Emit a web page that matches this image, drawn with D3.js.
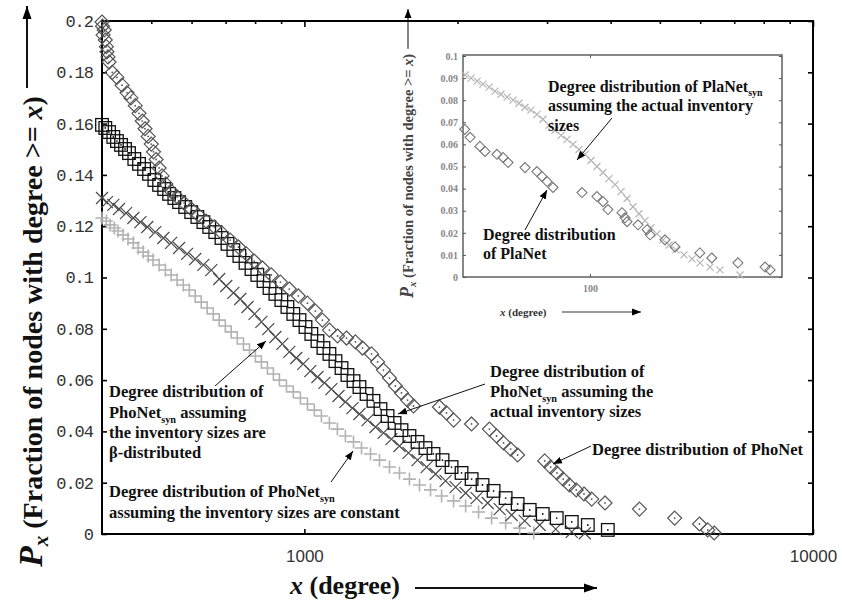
<!DOCTYPE html>
<html><head><meta charset="utf-8">
<script src="https://cdn.jsdelivr.net/npm/d3@7"></script>
<style>body{margin:0;background:#fff}</style>
</head><body>
<svg id="chart" width="842" height="600"></svg>
<script>
// ---- main plot: cumulative degree distributions on a log degree axis ----
const xTickValues = [1000, 10000];
const xMinorTicks = [500, 600, 700, 800, 900, 2000, 3000, 4000, 5000, 6000, 7000, 8000, 9000];
const yTickValues = [0, 0.02, 0.04, 0.06, 0.08, 0.1, 0.12, 0.14, 0.16, 0.18, 0.2];
const yTickLabels = ["0", "0.02", "0.04", "0.06", "0.08", "0.1", "0.12", "0.14", "0.16", "0.18", "0.2"];

// PhoNet (diamonds)
const phonetDegree = [400,401,404,402,406,408,409,411,413,419,428,438,448,456,465,473,480,486,493,500,505,511,518,525,534,547,562,580,599,618,641,665,689,715,742,769,797,827,861,897,934,973,1014,1051,1085,1120,1162,1210,1260,1301,1355,1393,1430,1470,1510,1552,1595,1639,1843,1903,1965,2131,2311,2387,2464,2544,2626,2968,3050,3137,3227,3319,3424,3546,3672,3900,4558,5346,5981,6209,6393];
const phonetFraction = [0.1996,0.198,0.1965,0.1945,0.1926,0.190,0.188,0.186,0.184,0.180,0.178,0.175,0.172,0.170,0.167,0.164,0.161,0.158,0.155,0.152,0.149,0.146,0.1427,0.1396,0.1365,0.1337,0.1314,0.129,0.1267,0.1244,0.122,0.1197,0.1173,0.1146,0.1119,0.1092,0.1064,0.1037,0.101,0.0982,0.0955,0.0928,0.090,0.0869,0.0834,0.0795,0.0772,0.0764,0.0749,0.0725,0.0702,0.0671,0.0639,0.0608,0.0577,0.055,0.0522,0.0499,0.0495,0.0472,0.0444,0.0429,0.0409,0.0382,0.0355,0.0331,0.0308,0.0285,0.0261,0.0238,0.0214,0.0191,0.0172,0.0156,0.0136,0.0121,0.0097,0.0062,0.0039,0.0016,0.0004];

// PhoNet_syn, actual inventory sizes (squares)
const synActualDegree = [400,406,413,421,428,436,444,452,463,473,484,495,507,518,530,542,555,567,583,599,616,633,650,668,687,706,725,745,766,787,808,831,854,877,901,926,951,978,1005,1032,1061,1090,1120,1151,1183,1215,1249,1283,1325,1367,1411,1457,1504,1552,1609,1669,1730,1794,1869,1947,2037,2132,2240,2355,2487,2626,2773,2942,3134,3355,3608,3950];
const synActualFraction = [0.1595,0.1583,0.1567,0.1548,0.1532,0.1517,0.1501,0.1485,0.1462,0.1443,0.1423,0.1404,0.138,0.1361,0.1345,0.1326,0.131,0.1294,0.1275,0.1255,0.1236,0.1216,0.1197,0.1177,0.1154,0.1131,0.1107,0.1084,0.1057,0.1033,0.101,0.0986,0.0959,0.0936,0.0912,0.0885,0.0858,0.0834,0.0807,0.078,0.0752,0.0725,0.0702,0.0674,0.0647,0.062,0.0596,0.0573,0.0546,0.0519,0.0487,0.046,0.0433,0.0405,0.0382,0.0359,0.0335,0.0312,0.0288,0.0261,0.0238,0.0214,0.0191,0.0168,0.014,0.0117,0.0094,0.0078,0.0062,0.0047,0.0035,0.0016];

// PhoNet_syn, beta-distributed inventory sizes (crosses)
const synBetaDegree = [400,409,421,432,446,461,476,491,509,528,547,567,588,610,633,656,680,702,725,748,773,798,823,849,877,905,934,964,995,1027,1061,1095,1130,1167,1204,1243,1283,1331,1380,1431,1483,1538,1602,1669,1739,1811,1895,1983,2075,2181,2293,2421,2556,2711,2902,3120,3355,3559];
const synBetaFraction = [0.131,0.1294,0.1283,0.1267,0.1251,0.1232,0.1216,0.1197,0.1177,0.1154,0.1135,0.1115,0.1092,0.1072,0.1049,0.1029,0.0994,0.0967,0.094,0.0916,0.0885,0.0858,0.0827,0.0799,0.0768,0.0741,0.071,0.0686,0.0663,0.0635,0.0612,0.0589,0.0565,0.0538,0.0515,0.0491,0.0468,0.0444,0.0417,0.0394,0.037,0.0343,0.0316,0.0288,0.0261,0.0234,0.0207,0.0183,0.016,0.014,0.0121,0.0097,0.0074,0.0051,0.0035,0.0019,0.0008,0.0003];

// PhoNet_syn, constant inventory sizes (plus signs)
const synConstDegree = [400,408,415,423,430,440,450,461,471,482,493,504,518,533,547,562,578,594,610,627,644,662,680,699,718,738,759,780,801,823,846,869,893,922,951,982,1014,1046,1080,1120,1161,1204,1249,1295,1349,1405,1470,1538,1609,1684,1770,1861,1965,2075,2200,2334,2487,2650,2824];
const synConstFraction = [0.1232,0.122,0.1205,0.1193,0.1181,0.1166,0.115,0.1135,0.1115,0.1099,0.1084,0.1068,0.1049,0.1029,0.101,0.099,0.0971,0.0951,0.0928,0.0904,0.0881,0.0858,0.0834,0.0811,0.0788,0.0764,0.0741,0.0717,0.0694,0.0671,0.0647,0.0624,0.06,0.0577,0.0554,0.053,0.0507,0.0483,0.046,0.0433,0.0409,0.0382,0.0359,0.0335,0.0312,0.0288,0.0261,0.0238,0.0214,0.0191,0.0172,0.0148,0.0129,0.0109,0.0086,0.0062,0.0043,0.0023,0.0004];

// ---- inset: PlaNet ----
const insetXTicks = [100];
const insetYTicks = [0, 0.01, 0.02, 0.03, 0.04, 0.05, 0.06, 0.07, 0.08, 0.09, 0.1];
const insetYLabels = ["0", "0.01", "0.02", "0.03", "0.04", "0.05", "0.06", "0.07", "0.08", "0.09", "0.1"];
const planetDegree = [40.5,42.1,45.2,46.9,51.1,53.4,55.4,62.6,68.2,70.7,73.4,76.6,94.4,105.2,109.9,113.9,126,128.8,130.7,141.5,151,154.3,171.9,184.8,221,241,291,354,367];
const planetFraction = [0.0668,0.0632,0.0591,0.0568,0.0555,0.0541,0.0518,0.0495,0.0477,0.0455,0.0432,0.0405,0.0382,0.0364,0.0341,0.0305,0.0291,0.0268,0.025,0.0236,0.0214,0.0191,0.0168,0.0136,0.0109,0.0086,0.0064,0.0045,0.0032];
const planetSynDegree = [40.6,42.4,44.3,46.2,48.3,50.4,52.6,55.0,57.4,59.9,62.6,65.3,68.2,71.2,74.4,77.7,81.2,84.7,88.5,92.4,96.5,100.8,105.2,109.9,114.8,119.9,125.2,130.7,136.5,142.5,148.8,155.4,162.3,169.5,177,186.1,197.1,208.9,221.4,237.9,255.7,295.4];
const planetSynFraction = [0.0914,0.09,0.0886,0.0873,0.0859,0.0841,0.0827,0.0814,0.08,0.0786,0.0768,0.0755,0.0736,0.0714,0.0686,0.0664,0.0641,0.0623,0.06,0.0577,0.0555,0.0527,0.05,0.0473,0.0445,0.0418,0.0386,0.0355,0.0318,0.0286,0.0255,0.0223,0.0195,0.0168,0.0145,0.0123,0.01,0.0082,0.0064,0.0045,0.0032,0.0009];

const svg = d3.select("#chart");
const SERIF = "'Liberation Serif','Times New Roman',serif";

const defs = svg.append("defs");
defs.append("marker").attr("id", "head").attr("markerUnits", "userSpaceOnUse")
  .attr("markerWidth", 10).attr("markerHeight", 8).attr("refX", 9).attr("refY", 4)
  .attr("orient", "auto")
  .append("path").attr("d", "M0,0.5L9,4L0,7.5Z").attr("fill", "#000");
defs.append("marker").attr("id", "headBig").attr("markerUnits", "userSpaceOnUse")
  .attr("markerWidth", 14).attr("markerHeight", 10).attr("refX", 13).attr("refY", 5)
  .attr("orient", "auto")
  .append("path").attr("d", "M0,0.5L13,5L0,9.5Z").attr("fill", "#000");

// scales
const x = d3.scaleLog().domain([400, 10000]).range([102, 813]);
const y = d3.scaleLinear().domain([0, 0.2]).range([534, 21]);

const zip = (a, b) => a.map((v, i) => [v, b[i]]);

// marker shapes
function drawDiamonds(g, data, sx, sy, r, color, sw, dot) {
  const s = g.selectAll(null).data(data).enter().append("g")
    .attr("transform", d => `translate(${sx(d[0])},${sy(d[1])})`);
  s.append("path").attr("d", `M0,${-r}L${r},0L0,${r}L${-r},0Z`)
    .attr("fill", "none").attr("stroke", color).attr("stroke-width", sw);
  if (dot) s.append("circle").attr("r", dot).attr("fill", color);
}
function drawSquares(g, data, sx, sy, h, color, sw, dot) {
  const s = g.selectAll(null).data(data).enter().append("g")
    .attr("transform", d => `translate(${sx(d[0])},${sy(d[1])})`);
  s.append("rect").attr("x", -h).attr("y", -h).attr("width", 2 * h).attr("height", 2 * h)
    .attr("fill", "none").attr("stroke", color).attr("stroke-width", sw);
  if (dot) s.append("circle").attr("r", dot).attr("fill", color);
}
function drawCrosses(g, data, sx, sy, h, color, sw) {
  g.selectAll(null).data(data).enter().append("path")
    .attr("transform", d => `translate(${sx(d[0])},${sy(d[1])})`)
    .attr("d", `M${-h},${-h}L${h},${h}M${-h},${h}L${h},${-h}`)
    .attr("stroke", color).attr("stroke-width", sw).attr("fill", "none");
}
function drawPlus(g, data, sx, sy, h, color, sw) {
  g.selectAll(null).data(data).enter().append("path")
    .attr("transform", d => `translate(${sx(d[0])},${sy(d[1])})`)
    .attr("d", `M${-h},0L${h},0M0,${-h}L0,${h}`)
    .attr("stroke", color).attr("stroke-width", sw).attr("fill", "none");
}

// ---- inset ----
const xi = d3.scaleLog().domain([40, 400]).range([463, 782]);
const yi = d3.scaleLinear().domain([0, 0.1]).range([277, 56]);
const inset = svg.append("g");
inset.append("rect").attr("x", 463).attr("y", 55).attr("width", 319).attr("height", 222)
  .attr("fill", "none").attr("stroke", "#555").attr("stroke-width", 1.4);
const insetTickStyle = s => { s.select(".domain").remove(); s.selectAll("line").attr("stroke", "#555"); };
inset.append("g").attr("transform", "translate(463,0)")
  .call(d3.axisLeft(yi).tickValues(insetYTicks).tickSize(-3).tickPadding(5)
    .tickFormat((d, i) => insetYLabels[i]))
  .call(insetTickStyle)
  .call(s => s.selectAll("text").attr("font-family", SERIF).attr("font-size", 10)
    .attr("font-weight", "bold").attr("fill", "#888"));
inset.append("g").attr("transform", "translate(782,0)")
  .call(d3.axisRight(yi).tickValues(insetYTicks).tickSize(-3).tickFormat(""))
  .call(insetTickStyle);
inset.append("g").attr("transform", "translate(0,277)")
  .call(d3.axisBottom(xi).tickValues(insetXTicks).tickSize(-3).tickPadding(8).tickFormat(d3.format("d")))
  .call(insetTickStyle)
  .call(s => s.selectAll("text").attr("font-family", SERIF).attr("font-size", 10)
    .attr("font-weight", "bold").attr("fill", "#888"));
inset.append("g").attr("transform", "translate(0,55)")
  .call(d3.axisTop(xi).tickValues(insetXTicks).tickSize(-3).tickFormat(""))
  .call(insetTickStyle);

drawCrosses(inset, zip(planetSynDegree, planetSynFraction), xi, yi, 3.5, "#b5b5b5", 1.2);
drawDiamonds(inset, zip(planetDegree, planetFraction), xi, yi, 5, "#777", 1.1, 0);

// inset axis titles
const iyt = inset.append("text").attr("transform", "translate(413,298) rotate(-90)")
  .attr("font-family", SERIF).attr("font-weight", "bold").attr("fill", "#444");
iyt.append("tspan").attr("font-size", 18).attr("font-style", "italic").text("P");
iyt.append("tspan").attr("font-size", 11).attr("font-style", "italic").attr("dy", 3).text("x");
iyt.append("tspan").attr("font-size", 14.5).attr("dy", -3).text(" (Fraction of nodes with degree >= ");
iyt.append("tspan").attr("font-size", 14.5).attr("font-style", "italic").text("x");
iyt.append("tspan").attr("font-size", 14.5).text(")");
const iytLen = iyt.node().getComputedTextLength();
inset.append("line").attr("x1", 408).attr("x2", 408)
  .attr("y1", 298 - iytLen - 5).attr("y2", 9)
  .attr("stroke", "#333").attr("stroke-width", 1.2).attr("marker-end", "url(#head)");
const ixt = inset.append("text").attr("x", 500).attr("y", 316)
  .attr("font-family", SERIF).attr("font-weight", "bold").attr("font-size", 11).attr("fill", "#333");
ixt.append("tspan").attr("font-style", "italic").text("x");
ixt.append("tspan").text(" (degree)");
inset.append("line").attr("x1", 562).attr("x2", 641).attr("y1", 312).attr("y2", 312)
  .attr("stroke", "#333").attr("stroke-width", 1).attr("marker-end", "url(#head)");

// ---- main frame & axes ----
const frame = svg.append("g");
frame.append("rect").attr("x", 102).attr("y", 21).attr("width", 711).attr("height", 513)
  .attr("fill", "none").attr("stroke", "#000").attr("stroke-width", 2);
const tickStyle = s => { s.select(".domain").remove(); s.selectAll("line").attr("stroke", "#000").attr("stroke-width", 1.6); };
frame.append("g").attr("transform", "translate(102,0)")
  .call(d3.axisLeft(y).tickValues(yTickValues).tickSize(-5).tickPadding(9)
    .tickFormat((d, i) => yTickLabels[i]))
  .call(tickStyle)
  .call(s => s.selectAll("text").attr("font-family", "'Liberation Mono',monospace")
    .attr("font-size", 17).attr("letter-spacing", -1).attr("fill", "#333"));
frame.append("g").attr("transform", "translate(813,0)")
  .call(d3.axisRight(y).tickValues(yTickValues).tickSize(-5).tickFormat(""))
  .call(tickStyle);
frame.append("g").attr("transform", "translate(0,534)")
  .call(d3.axisBottom(x).tickValues(xTickValues).tickSize(-5).tickPadding(16).tickFormat(d3.format("d")))
  .call(tickStyle)
  .call(s => s.selectAll("text").attr("font-family", "'Liberation Sans',sans-serif")
    .attr("font-size", 17).attr("fill", "#333"));
frame.append("g").attr("transform", "translate(0,21)")
  .call(d3.axisTop(x).tickValues(xTickValues).tickSize(-6).tickFormat(""))
  .call(tickStyle);
frame.append("g").attr("transform", "translate(0,21)")
  .call(d3.axisTop(x).tickValues(xMinorTicks).tickSize(-3).tickFormat(""))
  .call(tickStyle);

// ---- main series ----
const plot = svg.append("g");
drawPlus(plot, zip(synConstDegree, synConstFraction), x, y, 6.5, "#b3b3b3", 1.6);
drawCrosses(plot, zip(synBetaDegree, synBetaFraction), x, y, 6, "#4a4a4a", 1.2);
drawSquares(plot, zip(synActualDegree, synActualFraction), x, y, 6.3, "#111", 1.3, 0.9);
drawDiamonds(plot, zip(phonetDegree, phonetFraction), x, y, 7, "#555", 1.2, 0.9);

// ---- axis titles ----
const yt = svg.append("text").attr("transform", "translate(42,567) rotate(-90)")
  .attr("font-family", SERIF).attr("font-weight", "bold").attr("fill", "#111");
yt.append("tspan").attr("font-size", 34).attr("font-style", "italic").text("P");
yt.append("tspan").attr("font-size", 21).attr("font-style", "italic").attr("dy", 6).text("x");
yt.append("tspan").attr("font-size", 28).attr("dy", -6).text(" (Fraction of nodes with degree >= ");
yt.append("tspan").attr("font-size", 28).attr("font-style", "italic").text("x");
yt.append("tspan").attr("font-size", 28).text(")");
const ytLen = yt.node().getComputedTextLength();
svg.append("line").attr("x1", 27).attr("x2", 27).attr("y1", 567 - ytLen - 8).attr("y2", 6)
  .attr("stroke", "#111").attr("stroke-width", 2).attr("marker-end", "url(#headBig)");

const xt = svg.append("text").attr("x", 290).attr("y", 594)
  .attr("font-family", SERIF).attr("font-weight", "bold").attr("font-size", 26).attr("fill", "#111");
xt.append("tspan").attr("font-style", "italic").text("x");
xt.append("tspan").text(" (degree)");
svg.append("line").attr("x1", 415).attr("x2", 597).attr("y1", 588).attr("y2", 588)
  .attr("stroke", "#111").attr("stroke-width", 2).attr("marker-end", "url(#headBig)");

// ---- annotations ----
// each line is a list of plain strings and {sub: "..."} subscripts
function note(px, baselines, lines, size) {
  const t = svg.append("text").attr("font-family", SERIF).attr("font-weight", "bold")
    .attr("font-size", size).attr("fill", "#111");
  const shift = size * 0.28;
  lines.forEach((segs, i) => {
    const line = t.append("tspan").attr("x", px).attr("y", baselines[i]);
    let lowered = false;
    segs.forEach(s => {
      if (typeof s === "string") {
        const sp = line.append("tspan").text(s);
        if (lowered) { sp.attr("dy", -shift); lowered = false; }
      } else {
        line.append("tspan").attr("font-size", size * 0.62).attr("dy", shift).text(s.sub);
        lowered = true;
      }
    });
  });
}
function arrow(x1, y1, x2, y2) {
  svg.append("line").attr("x1", x1).attr("y1", y1).attr("x2", x2).attr("y2", y2)
    .attr("stroke", "#111").attr("stroke-width", 1).attr("marker-end", "url(#head)");
}

note(109, [397, 418, 438, 458], [
  ["Degree distribution of"],
  ["PhoNet", {sub: "syn"}, " assuming"],
  ["the inventory sizes are"],
  ["\u03b2-distributed"]], 16.5);
arrow(215, 386, 266, 341);

note(109, [497, 518], [
  ["Degree distribution of PhoNet", {sub: "syn"}],
  ["assuming the inventory sizes are constant"]], 16.5);
arrow(331, 482, 353, 451);

note(490, [377, 397, 417], [
  ["Degree distribution of"],
  ["PhoNet", {sub: "syn"}, " assuming the"],
  ["actual inventory sizes"]], 16.5);
arrow(485, 384, 398, 414);

note(592, [455], [["Degree distribution of PhoNet"]], 16.5);
arrow(591, 446, 553, 464);

note(548, [92, 111, 131], [
  ["Degree distribution of PlaNet", {sub: "syn"}],
  ["assuming the actual inventory"],
  ["sizes"]], 16);
arrow(612, 118, 577, 160);

note(483, [240, 259], [
  ["Degree distribution"],
  ["of PlaNet"]], 16);
arrow(525, 230, 547, 190);
</script>
</body></html>
